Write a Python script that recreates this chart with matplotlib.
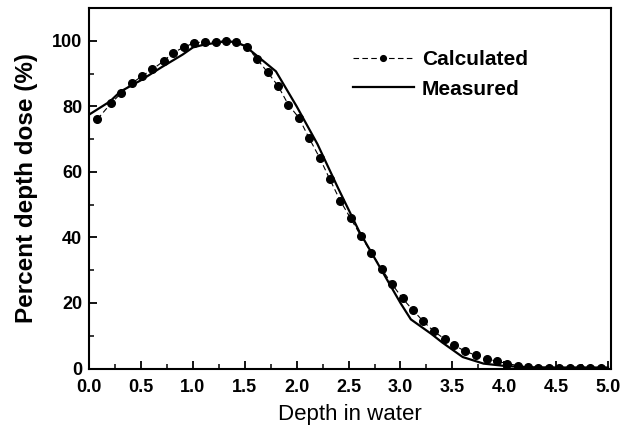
import matplotlib
matplotlib.use("Agg")
import matplotlib.pyplot as plt
from matplotlib.ticker import MultipleLocator

plt.rcParams['font.family'] = ['Liberation Sans', 'DejaVu Sans']

calc_x = [0.08, 0.21, 0.31, 0.41, 0.51, 0.61, 0.72, 0.81, 0.91, 1.01, 1.12, 1.22, 1.32,
          1.42, 1.52, 1.62, 1.72, 1.82, 1.92, 2.02, 2.12, 2.22, 2.32, 2.42, 2.52, 2.62,
          2.72, 2.82, 2.92, 3.02, 3.12, 3.22, 3.32, 3.43, 3.52, 3.62, 3.73, 3.83, 3.93,
          4.03, 4.13, 4.23, 4.33, 4.43, 4.53, 4.63, 4.73, 4.83, 4.93]
calc_y = [76.1, 80.9, 84.1, 87.0, 89.3, 91.3, 93.9, 96.4, 98.0, 99.4, 99.7, 99.8, 100.0,
          99.7, 98.2, 94.4, 90.4, 86.3, 80.5, 76.6, 70.3, 64.4, 57.7, 51.2, 45.8, 40.4,
          35.3, 30.3, 25.7, 21.4, 17.8, 14.4, 11.4, 8.9, 7.1, 5.3, 4.0, 3.0, 2.2,
          1.5, 0.9, 0.5, 0.3, 0.3, 0.3, 0.3, 0.3, 0.3, 0.3]

meas_x = [0.0, 0.2, 0.3, 0.5, 0.7, 0.9, 1.0, 1.1, 1.3, 1.4, 1.5, 1.8, 2.0, 2.2, 2.4,
          2.6, 2.8, 3.0, 3.1, 3.3, 3.4, 3.6, 3.8, 4.0, 4.2, 4.5, 5.0]
meas_y = [77.5, 81.5, 84.5, 88.0, 92.0, 95.8, 98.0, 98.8, 99.8, 99.7, 98.5, 90.7, 80.0,
          68.5, 55.0, 42.0, 31.0, 20.0, 15.0, 10.5, 8.0, 3.5, 1.5, 0.8, 0.4, 0.3, 0.3]

x_ticks = [0.0, 0.5, 1.0, 1.5, 2.0, 2.5, 3.0, 3.5, 4.0, 4.5, 5.0]
y_ticks = [0, 20, 40, 60, 80, 100]

fig = plt.figure(figsize=(6.32, 4.28), dpi=100)
ax = fig.add_axes([0.141, 0.139, 0.826, 0.842])

ax.plot(calc_x, calc_y, color='black', linestyle=(0, (5, 3)), linewidth=0.8,
        marker='o', markersize=5.5, label='Calculated')
ax.plot(meas_x, meas_y, color='black', linestyle='-', linewidth=1.6, label='Measured')

ax.set_xlim(0, 5.03)
ax.set_ylim(0, 110)
ax.set_xticks(x_ticks)
ax.set_xticklabels([f"{v:.1f}" for v in x_ticks])
ax.set_yticks(y_ticks)
ax.xaxis.set_minor_locator(MultipleLocator(0.25))
ax.yaxis.set_minor_locator(MultipleLocator(10))
ax.tick_params(which='major', direction='in', length=6, width=1.3, labelsize=13)
ax.tick_params(axis='x', which='major', pad=7.5)
ax.tick_params(axis='y', which='major', pad=5)
ax.tick_params(which='minor', direction='in', length=3.5, width=1.1)
for lab in ax.get_xticklabels() + ax.get_yticklabels():
    lab.set_fontweight('bold')
for s in ax.spines.values():
    s.set_linewidth(1.5)

ax.set_xlabel('Depth in water', fontsize=16, labelpad=6)
ax.set_ylabel('Percent depth dose (%)', fontsize=17.5, fontweight='bold', labelpad=10)

leg = ax.legend(loc='upper left', bbox_to_anchor=(0.47, 0.935), frameon=False,
                prop={'size': 15, 'weight': 'bold'}, handlelength=2.9,
                handletextpad=0.4, labelspacing=0.5, markerscale=0.75)

fig.savefig('out.png', dpi=100)
